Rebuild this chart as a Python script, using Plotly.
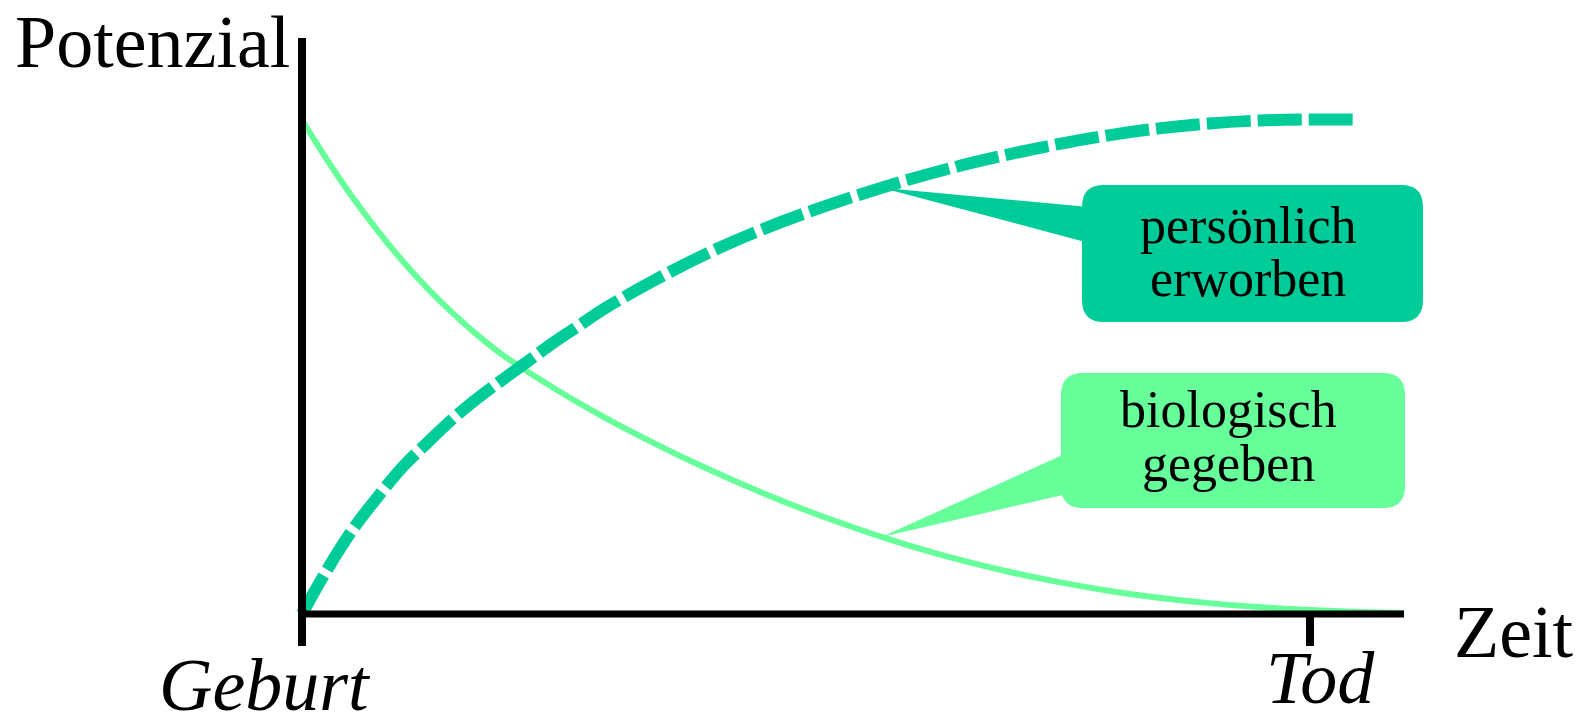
import plotly.graph_objects as go

# ---------------- data (time: Geburt=0, Tod=100; potential 0..100) ----------------
bio_t = [0, 2.5, 5, 7.5, 10, 12.5, 15, 17.5, 20, 25, 30, 35, 40, 45, 50, 55, 57.5, 60, 65,
         70, 75, 80, 85, 90, 95, 100, 105, 109.3]
bio_v = [100, 91.9, 84.4, 77.6, 71.4, 65.8, 60.8, 56.3, 52.3, 45.7, 39.8, 34.5, 29.6, 25.1,
         21.0, 17.3, 15.6, 14.0, 11.1, 8.6, 6.5, 4.7, 3.3, 2.2, 1.4, 0.8, 0.4, 0.2]

pers_t = [0, 2.5, 5, 7.5, 10, 12.5, 15, 17.5, 20, 22.5, 25, 27.5, 30, 35, 40, 45, 50, 57.5,
          65, 70, 75, 80, 85, 90, 95, 100, 104.3]
pers_v = [0, 9, 17, 23.7, 29.8, 34.8, 39.6, 43.8, 47.6, 51.3, 55, 58.4, 61.8, 67.6, 72.8, 77.3,
          81.2, 86.3, 90.6, 93.0, 95.1, 96.9, 98.3, 99.3, 99.9, 100.1, 100.1]

x_ticks = [0, 100]
x_tick_labels = ["Geburt", "Tod"]
axis_titles = ["Zeit", "Potenzial"]
box_texts = [["persönlich", "erworben"], ["biologisch", "gegeben"]]

# pointer tips (indices into the curves)
pers_tip_idx = 17
bio_tip_idx = 16

# ---------------- layout geometry ----------------
W, H = 1588, 723
X0_PX, X100_PX = 302, 1310
Y0_PX, Y100_PX = 614, 120
sx = (X100_PX - X0_PX) / 100.0
sy = (Y0_PX - Y100_PX) / 100.0

def px2x(p):
    return (p - X0_PX) / sx

def px2y(p):
    return (Y0_PX - p) / sy

DARK = "#00CC99"
LIGHT = "#66FF99"
FONT = "Liberation Serif, Times New Roman, serif"

fig = go.Figure()

fig.add_trace(go.Scatter(x=bio_t, y=bio_v, mode="lines",
                         line=dict(color=LIGHT, width=6, shape="spline", smoothing=1.0),
                         hoverinfo="skip", showlegend=False))
fig.add_trace(go.Scatter(x=pers_t, y=pers_v, mode="lines",
                         line=dict(color=DARK, width=12, shape="spline", smoothing=1.0,
                                   dash="44px,7px"),
                         hoverinfo="skip", showlegend=False))

shapes = []

def rounded_box(x0p, y0p, x1p, y1p, r, color):
    X0, X1 = px2x(x0p), px2x(x1p)
    Y0, Y1 = px2y(y0p), px2y(y1p)
    rx, ry = r / sx, r / sy
    path = (f"M {X0+rx},{Y0} L {X1-rx},{Y0} Q {X1},{Y0} {X1},{Y0-ry} "
            f"L {X1},{Y1+ry} Q {X1},{Y1} {X1-rx},{Y1} L {X0+rx},{Y1} "
            f"Q {X0},{Y1} {X0},{Y1+ry} L {X0},{Y0-ry} Q {X0},{Y0} {X0+rx},{Y0} Z")
    return dict(type="path", path=path, xref="x", yref="y",
                fillcolor=color, line=dict(width=0), layer="above")

def wedge(tip_t, tip_v, xbase_p, yb0_p, yb1_p, color):
    xb = px2x(xbase_p + 6)
    path = f"M {tip_t},{tip_v} L {xb},{px2y(yb0_p)} L {xb},{px2y(yb1_p)} Z"
    return dict(type="path", path=path, xref="x", yref="y",
                fillcolor=color, line=dict(width=0), layer="above")

# callout: persönlich erworben
shapes.append(wedge(pers_t[pers_tip_idx], pers_v[pers_tip_idx], 1083, 207, 243, DARK))
shapes.append(rounded_box(1082, 185, 1423, 322, 22, DARK))
# callout: biologisch gegeben
shapes.append(wedge(bio_t[bio_tip_idx], bio_v[bio_tip_idx], 1061, 453, 494, LIGHT))
shapes.append(rounded_box(1061, 373, 1405, 508, 22, LIGHT))

# axes
shapes.append(dict(type="line", xref="x", yref="y", x0=0, x1=0,
                   y0=px2y(646), y1=px2y(38), line=dict(color="black", width=8), layer="above"))
shapes.append(dict(type="line", xref="x", yref="y", x0=px2x(298), x1=px2x(1404),
                   y0=0, y1=0, line=dict(color="black", width=7), layer="above"))
shapes.append(dict(type="line", xref="x", yref="y", x0=x_ticks[1], x1=x_ticks[1],
                   y0=0, y1=px2y(646), line=dict(color="black", width=8), layer="above"))

annotations = []

def label(text, xp, yp, size, italic=False):
    annotations.append(dict(text=f"<i>{text}</i>" if italic else text,
                            x=px2x(xp), y=px2y(yp), xref="x", yref="y",
                            xanchor="center", yanchor="middle", showarrow=False,
                            font=dict(family=FONT, size=size, color="black")))

label(axis_titles[1], 152, 42, 74)
label(axis_titles[0], 1514, 632, 74)
label(x_tick_labels[0], 265, 685, 74, italic=True)
label(x_tick_labels[1], 1320, 678, 74, italic=True)

label(box_texts[0][0], 1248, 225, 52)
label(box_texts[0][1], 1248, 278, 52)
label(box_texts[1][0], 1228, 409, 52)
label(box_texts[1][1], 1228, 463, 52)

fig.update_layout(
    width=W, height=H,
    margin=dict(l=0, r=0, t=0, b=0),
    paper_bgcolor="white", plot_bgcolor="white",
    shapes=shapes, annotations=annotations,
    xaxis=dict(range=[px2x(0), px2x(W)], visible=False, fixedrange=True),
    yaxis=dict(range=[px2y(H), px2y(0)], visible=False, fixedrange=True),
    showlegend=False,
)

fig.write_html("out.html", config={"displayModeBar": False, "staticPlot": True},
               post_script="document.body.style.margin='0';document.body.style.overflow='hidden';")
